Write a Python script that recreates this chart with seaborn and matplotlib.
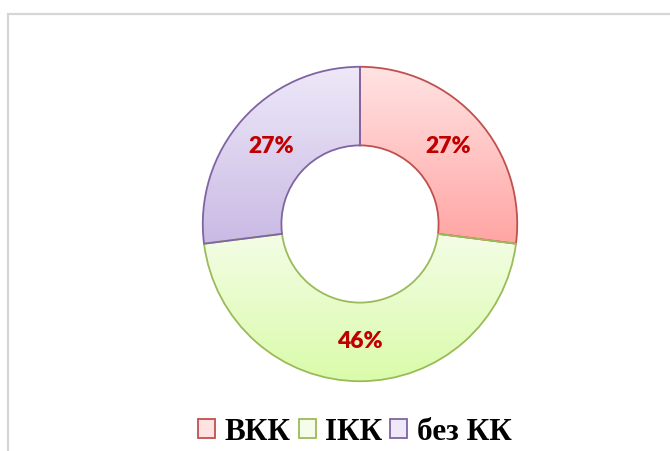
import numpy as np
import matplotlib
matplotlib.use("Agg")
import matplotlib.pyplot as plt
import seaborn as sns
from matplotlib.patches import Patch, Rectangle
from matplotlib.colors import LinearSegmentedColormap

categories = ["ВКК", "ІКК", "без КК"]
values = [27, 46, 27]
labels_pct = ["27%", "46%", "27%"]

edge_colors = ["#C0504D", "#9BBB59", "#8064A2"]
grad_top = ["#FFE3E3", "#F5FDEA", "#EEE8F8"]
grad_bot = ["#FFA5A3", "#DAFBAA", "#C9BAE4"]

sns.set_theme(style="white")
plt.rcParams['font.family'] = ['DejaVu Sans']

W, H = 670, 451
fig = plt.figure(figsize=(W / 100, H / 100), dpi=100)
fig.patch.set_facecolor("white")

# frame
fig.add_artist(Rectangle((8 / W, -0.1), 1.2, 1 - 14 / H + 0.1, transform=fig.transFigure,
                         fill=False, edgecolor="#D6D6D6", linewidth=1.6))

cx, cy, R = 360, 224, 158
ax = fig.add_axes([(cx - R) / W, (H - cy - R) / H, 2 * R / W, 2 * R / H])
ax.set_aspect("equal")
ax.axis("off")

wedges, _ = ax.pie(values, startangle=90, counterclock=False, radius=1,
                   colors=grad_bot,
                   wedgeprops=dict(width=0.5, edgecolor="none"))

for i, w in enumerate(wedges):
    w.set_facecolor("none")
    verts = w.get_path().vertices
    x0, x1 = verts[:, 0].min(), verts[:, 0].max()
    y0, y1 = verts[:, 1].min(), verts[:, 1].max()
    cmap = LinearSegmentedColormap.from_list("g%d" % i, [grad_bot[i], grad_top[i]])
    grad = np.linspace(0, 1, 256).reshape(-1, 1)
    im = ax.imshow(grad, extent=[x0, x1, y0, y1], origin="lower", cmap=cmap,
                   aspect="auto", zorder=1, interpolation="bilinear")
    im.set_clip_path(w)
    w.set_zorder(2)
    w.set_edgecolor(edge_colors[i])
    w.set_linewidth(1.3)

ax.set_xlim(-1.005, 1.005)
ax.set_ylim(-1.005, 1.005)

total = sum(values)
start = 90.0
for i, v in enumerate(values):
    ang = start - 360.0 * v / total / 2
    start -= 360.0 * v / total
    r = 0.75
    ax.text(r * np.cos(np.radians(ang)), r * np.sin(np.radians(ang)), labels_pct[i],
            ha="center", va="center", fontsize=16.5, fontweight="heavy",
            color="#C00000", family=["Lato", "DejaVu Sans"], zorder=5)

handles = [Patch(facecolor=grad_top[i], edgecolor=edge_colors[i], linewidth=1.3)
           for i in range(3)]
leg = fig.legend(handles, categories, loc="center", bbox_to_anchor=(355 / W, 1 - 432 / H),
                 ncol=3, frameon=False, handlelength=0.55, handleheight=0.55,
                 handletextpad=0.3, columnspacing=0.25,
                 prop=dict(family="Liberation Serif", weight="bold", size=22.5))
for t in leg.get_texts():
    t.set_color("black")

fig.savefig("out.png", dpi=100, facecolor="white")
